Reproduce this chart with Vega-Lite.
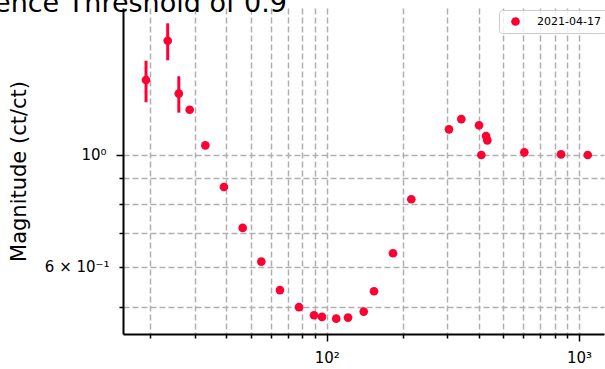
{
  "$schema": "https://vega.github.io/schema/vega-lite/v6.json",
  "autosize": "none",
  "padding": {"left": 123, "top": 8, "right": 1, "bottom": 35},
  "width": 481,
  "height": 326,
  "background": "white",
  "config": {"view": {"stroke": null}},
  "title": {
    "text": "Coherence Threshold of 0.9",
    "anchor": "end",
    "frame": "group",
    "font": "DejaVu Sans",
    "fontSize": 27,
    "fontWeight": "normal",
    "color": "black",
    "baseline": "alphabetic",
    "offset": -31,
    "dx": -317
  },
  "data": {
    "values": [
      {"freq": 19.2, "mag": 1.408, "lo": 1.272, "hi": 1.537, "date": "2021-04-17"},
      {"freq": 23.4, "mag": 1.684, "lo": 1.540, "hi": 1.823, "date": "2021-04-17"},
      {"freq": 25.9, "mag": 1.323, "lo": 1.213, "hi": 1.432, "date": "2021-04-17"},
      {"freq": 28.6, "mag": 1.229, "date": "2021-04-17"},
      {"freq": 33.0, "mag": 1.045, "date": "2021-04-17"},
      {"freq": 39.1, "mag": 0.864, "date": "2021-04-17"},
      {"freq": 46.4, "mag": 0.717, "date": "2021-04-17"},
      {"freq": 55.0, "mag": 0.615, "date": "2021-04-17"},
      {"freq": 65.2, "mag": 0.540, "date": "2021-04-17"},
      {"freq": 77.6, "mag": 0.4995, "date": "2021-04-17"},
      {"freq": 89.0, "mag": 0.4815, "date": "2021-04-17"},
      {"freq": 95.7, "mag": 0.4778, "date": "2021-04-17"},
      {"freq": 109.0, "mag": 0.4741, "date": "2021-04-17"},
      {"freq": 121.4, "mag": 0.4763, "date": "2021-04-17"},
      {"freq": 140.1, "mag": 0.4895, "date": "2021-04-17"},
      {"freq": 153.9, "mag": 0.5372, "date": "2021-04-17"},
      {"freq": 183.0, "mag": 0.6389, "date": "2021-04-17"},
      {"freq": 216.3, "mag": 0.8172, "date": "2021-04-17"},
      {"freq": 305.1, "mag": 1.124, "date": "2021-04-17"},
      {"freq": 341.5, "mag": 1.178, "date": "2021-04-17"},
      {"freq": 401.4, "mag": 1.145, "date": "2021-04-17"},
      {"freq": 427.9, "mag": 1.090, "date": "2021-04-17"},
      {"freq": 433.0, "mag": 1.069, "date": "2021-04-17"},
      {"freq": 409.9, "mag": 1.000, "date": "2021-04-17"},
      {"freq": 606.9, "mag": 1.012, "date": "2021-04-17"},
      {"freq": 848.6, "mag": 1.003, "date": "2021-04-17"},
      {"freq": 1082.7, "mag": 1.000, "date": "2021-04-17"}
    ]
  },
  "encoding": {
    "x": {
      "field": "freq",
      "type": "quantitative",
      "scale": {"type": "log", "domain": [15.56, 1256], "nice": false},
      "axis": {
        "title": null,
        "values": [20, 30, 40, 50, 60, 70, 80, 90, 100, 200, 300, 400, 500, 600, 700, 800, 900, 1000],
        "labelExpr": "datum.value == 100 ? '10²' : datum.value == 1000 ? '10³' : ''",
        "labelFont": "DejaVu Sans",
        "labelFontSize": 15,
        "labelColor": "black",
        "labelPadding": 9,
        "labelFlush": false,
        "labelOverlap": false,
        "grid": true,
        "gridColor": "#b0b0b0",
        "gridDash": [6, 3],
        "gridWidth": 1.5,
        "tickColor": "black",
        "tickWidth": 1.5,
        "tickSize": {"condition": {"test": "datum.value == 100 || datum.value == 1000", "value": 7}, "value": 4},
        "domainColor": "black",
        "domainWidth": 2
      }
    }
  },
  "layer": [
    {
      "transform": [{"filter": "isValid(datum.lo)"}],
      "mark": {"type": "rule", "strokeWidth": 3, "color": "#ff0033"},
      "encoding": {
        "y": {"field": "lo", "type": "quantitative"},
        "y2": {"field": "hi"}
      }
    },
    {
      "mark": {"type": "circle", "size": 75, "opacity": 1},
      "encoding": {
        "y": {
          "field": "mag",
          "type": "quantitative",
          "scale": {"type": "log", "domain": [0.442, 1.955], "nice": false},
          "axis": {
            "title": "Magnitude (ct/ct)",
            "titleFont": "DejaVu Sans",
            "titleFontSize": 21,
            "titleFontWeight": "normal",
            "titleColor": "black",
            "titlePadding": 15,
            "values": [0.5, 0.6, 0.7, 0.8, 0.9, 1],
            "labelExpr": "datum.value == 1 ? '10⁰' : datum.value == 0.6 ? '6 × 10⁻¹' : ''",
            "labelFont": "DejaVu Sans",
            "labelFontSize": 15,
            "labelColor": "black",
            "labelPadding": 10,
            "labelFlush": false,
            "labelOverlap": false,
            "grid": true,
            "gridColor": "#b0b0b0",
            "gridDash": [6, 3],
            "gridWidth": 1.5,
            "tickColor": "black",
            "tickWidth": 1.5,
            "tickSize": {"condition": {"test": "datum.value == 1", "value": 7}, "value": 4},
            "domainColor": "black",
            "domainWidth": 2
          }
        },
        "color": {
          "field": "date",
          "type": "nominal",
          "scale": {"range": ["#ff0033"]},
          "legend": {
            "title": null,
            "orient": "none",
            "legendX": 376,
            "legendY": 2,
            "padding": 6,
            "strokeColor": "#cccccc",
            "fillColor": "rgba(255,255,255,0.8)",
            "cornerRadius": 3,
            "symbolType": "circle",
            "symbolSize": 75,
            "symbolStrokeWidth": 0,
            "symbolOpacity": 1,
            "symbolOffset": 5,
            "labelOffset": 16,
            "labelFont": "DejaVu Sans",
            "labelFontSize": 11,
            "labelColor": "black"
          }
        }
      }
    },
    {
      "data": {"values": [{"top": 1.955}]},
      "mark": {"type": "rule", "color": "black", "strokeWidth": 2},
      "encoding": {
        "y": {"field": "top", "type": "quantitative"}
      }
    }
  ]
}
